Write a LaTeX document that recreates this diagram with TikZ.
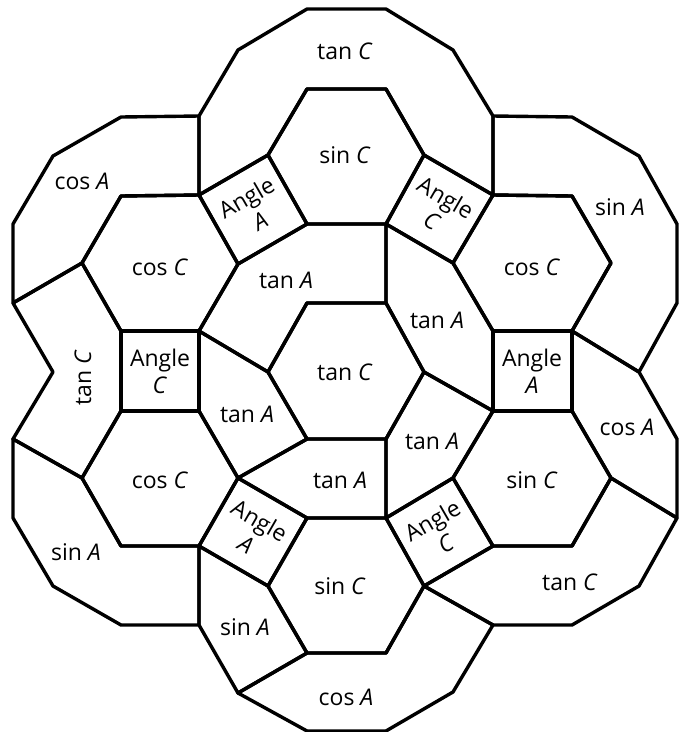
\documentclass[tikz,border=0pt]{standalone}
\usepackage{fontspec}
\setmainfont{Open Sans}
\begin{document}
\begin{tikzpicture}[x=1pt,y=-1pt,
  tile/.style={draw=black,line width=3.4pt,line join=round},
  lbl/.style={font=\fontsize{23}{27}\selectfont,inner sep=0pt,align=center}]
\useasboundingbox (0,0) rectangle (688,732);
% vertices
\coordinate (a1) at (199,116); \coordinate (a2) at (238,50); \coordinate (a3) at (307,9);
\coordinate (a4) at (386,9); \coordinate (a5) at (453,50); \coordinate (a6) at (493,116);
\coordinate (a7) at (493,195); \coordinate (a8) at (424,155); \coordinate (a9) at (386,89);
\coordinate (a10) at (307,89); \coordinate (a11) at (268,155); \coordinate (a12) at (199,195);
\coordinate (b1) at (386,224); \coordinate (b2) at (307,224); \coordinate (b3) at (238,264);
\coordinate (b4) at (453,263);
\coordinate (c1) at (121,117); \coordinate (c2) at (53,156); \coordinate (c3) at (13,224);
\coordinate (c4) at (13,303); \coordinate (c5) at (82,263); \coordinate (c6) at (121,196);
\coordinate (d1) at (199,331); \coordinate (d2) at (121,331); \coordinate (d3) at (121,411);
\coordinate (d4) at (199,411);
\coordinate (e1) at (82,478); \coordinate (e2) at (13,439); \coordinate (e3) at (53,372);
\coordinate (f1) at (386,303); \coordinate (f2) at (307,303); \coordinate (f3) at (268,372);
\coordinate (f4) at (424,372); \coordinate (f5) at (386,439); \coordinate (f6) at (307,439);
\coordinate (g1) at (493,331); \coordinate (g2) at (493,411); \coordinate (g3) at (572,196);
\coordinate (g4) at (611,263); \coordinate (g5) at (572,331); \coordinate (g6) at (572,411);
\coordinate (h1) at (572,117); \coordinate (h2) at (639,156); \coordinate (h3) at (677,224);
\coordinate (h4) at (677,303); \coordinate (h5) at (639,372); \coordinate (h6) at (677,439);
\coordinate (h7) at (677,518); \coordinate (i1) at (611,478);
\coordinate (j1) at (238,478); \coordinate (j2) at (199,546); \coordinate (j3) at (121,546);
\coordinate (j4) at (386,518); \coordinate (j5) at (307,518);
\coordinate (k1) at (453,478); \coordinate (k2) at (572,546); \coordinate (k3) at (493,546);
\coordinate (l1) at (268,586); \coordinate (l2) at (424,586); \coordinate (l3) at (386,653);
\coordinate (l4) at (307,653);
\coordinate (m1) at (199,625); \coordinate (m2) at (121,625); \coordinate (m3) at (53,586);
\coordinate (m4) at (13,518); \coordinate (m5) at (238,693);
\coordinate (n1) at (493,625); \coordinate (n2) at (453,692); \coordinate (n3) at (386,731);
\coordinate (n4) at (307,731); \coordinate (n5) at (639,586); \coordinate (n6) at (572,625);
% tiles
\draw[tile] (a1)--(a2)--(a3)--(a4)--(a5)--(a6)--(a7)--(a8)--(a9)--(a10)--(a11)--(a12)--cycle;
\draw[tile] (a10)--(a9)--(a8)--(b1)--(b2)--(a11)--cycle;
\draw[tile] (a12)--(a11)--(b2)--(b3)--cycle;
\draw[tile] (a8)--(a7)--(b4)--(b1)--cycle;
\draw[tile] (a1)--(c1)--(c2)--(c3)--(c4)--(c5)--(c6)--(a12)--cycle;
\draw[tile] (c6)--(a12)--(b3)--(d1)--(d2)--(c5)--cycle;
\draw[tile] (c4)--(c5)--(d2)--(d3)--(e1)--(e2)--(e3)--cycle;
\draw[tile] (d2)--(d1)--(d4)--(d3)--cycle;
\draw[tile] (b3)--(b2)--(b1)--(f1)--(f2)--(f3)--(d1)--cycle;
\draw[tile] (f2)--(f1)--(f4)--(f5)--(f6)--(f3)--cycle;
\draw[tile] (b1)--(b4)--(g1)--(g2)--(f4)--(f1)--cycle;
\draw[tile] (b4)--(a7)--(g3)--(g4)--(g5)--(g1)--cycle;
\draw[tile] (a6)--(h1)--(h2)--(h3)--(h4)--(h5)--(g5)--(g4)--(g3)--(a7)--cycle;
\draw[tile] (g1)--(g5)--(g6)--(g2)--cycle;
\draw[tile] (g5)--(h5)--(h6)--(h7)--(i1)--(g6)--cycle;
\draw[tile] (d1)--(f3)--(f6)--(j1)--(d4)--cycle;
\draw[tile] (d3)--(d4)--(j1)--(j2)--(j3)--(e1)--cycle;
\draw[tile] (j1)--(f6)--(f5)--(j4)--(j5)--cycle;
\draw[tile] (f5)--(f4)--(g2)--(k1)--(j4)--cycle;
\draw[tile] (k1)--(g2)--(g6)--(i1)--(k2)--(k3)--cycle;
\draw[tile] (j2)--(j1)--(j5)--(l1)--cycle;
\draw[tile] (j4)--(k1)--(k3)--(l2)--cycle;
\draw[tile] (j5)--(j4)--(l2)--(l3)--(l4)--(l1)--cycle;
\draw[tile] (e2)--(e1)--(j3)--(j2)--(m1)--(m2)--(m3)--(m4)--cycle;
\draw[tile] (j2)--(l1)--(l4)--(m5)--(m1)--cycle;
\draw[tile] (m5)--(l4)--(l3)--(l2)--(n1)--(n2)--(n3)--(n4)--cycle;
\draw[tile] (l2)--(k3)--(k2)--(i1)--(h7)--(n5)--(n6)--(n1)--cycle;
% labels
\node[lbl] (t1) at (345,51) {tan \textit{C}};
\node[lbl] (t2) at (345,155) {sin \textit{C}};
\node[lbl] (t3) at (82,181) {cos \textit{A}};
\node[lbl,rotate=30] (t4) at (253,209) {Angle\\\textit{A}};
\node[lbl,rotate=-30] (t5) at (439,209) {Angle\\\textit{C}};
\node[lbl] (t6) at (620,207) {sin \textit{A}};
\node[lbl] (t7) at (160,267) {cos \textit{C}};
\node[lbl] (t8) at (286,280) {tan \textit{A}};
\node[lbl] (t9) at (532,267) {cos \textit{C}};
\node[lbl] (t10) at (437,320) {tan \textit{A}};
\node[lbl,rotate=90] (t11) at (83,378) {tan \textit{C}};
\node[lbl] (t12) at (160,371) {Angle\\\textit{C}};
\node[lbl] (t13) at (345,372) {tan \textit{C}};
\node[lbl] (t14) at (532,371) {Angle\\\textit{A}};
\node[lbl] (t15) at (247,414) {tan \textit{A}};
\node[lbl] (t16) at (432,441) {tan \textit{A}};
\node[lbl] (t17) at (627,427) {cos \textit{A}};
\node[lbl] (t18) at (160,480) {cos \textit{C}};
\node[lbl] (t19) at (340,480) {tan \textit{A}};
\node[lbl] (t20) at (532,480) {sin \textit{C}};
\node[lbl] (t21) at (76,552) {sin \textit{A}};
\node[lbl,rotate=-30] (t22) at (253,532) {Angle\\\textit{A}};
\node[lbl,rotate=30] (t23) at (439,532) {Angle\\\textit{C}};
\node[lbl] (t24) at (340,586) {sin \textit{C}};
\node[lbl] (t25) at (570,582) {tan \textit{C}};
\node[lbl] (t26) at (245,627) {sin \textit{A}};
\node[lbl] (t27) at (346,697) {cos \textit{A}};
\end{tikzpicture}
\end{document}
